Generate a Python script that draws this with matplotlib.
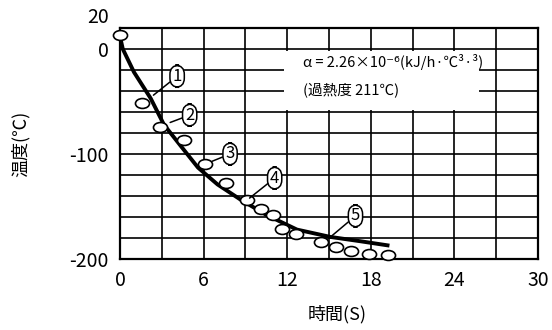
import matplotlib
matplotlib.use("Agg")
import matplotlib.pyplot as plt
from matplotlib.markers import MarkerStyle
from matplotlib.transforms import Affine2D
from matplotlib.patches import Rectangle

plt.rcParams['font.family'] = ['Noto Sans CJK JP', 'DejaVu Sans']

# measured points (open circles)
time_meas = [0, 1.6, 2.9, 4.6, 6.1, 7.6, 9.1, 10.1, 11.0, 11.6, 12.6, 14.4, 15.5, 16.6, 17.9, 19.2]
temp_meas = [13, -51, -74, -87, -110, -128, -144, -152, -158, -171, -176, -184, -189, -192, -195, -196]

# calculated curve
time_calc = [0, 0.2, 1.0, 2.2, 3.15, 4.4, 5.6, 7.0, 8.6, 10.5, 12.7, 15.1, 17.2, 19.2]
temp_calc = [12, 0, -22, -47, -72, -93, -113, -129, -143, -158, -172, -179, -183, -187]

# circled case numbers: label position and leader end
case_labels = ['1', '2', '3', '4', '5']
label_xy = [(4.1, -26), (5.0, -63), (7.9, -100), (11.1, -123), (16.9, -159)]
leader_xy = [(2.4, -44), (3.6, -70), (6.6, -107), (9.3, -142), (15.2, -178)]

xticks = [0, 6, 12, 18, 24, 30]
yticks = [20, 0, -100, -200]

fig = plt.figure(figsize=(5.52, 3.30), dpi=100)
ax = fig.add_axes([0.2174, 0.2152, 0.7572, 0.7000])

ax.set_xlim(0, 30)
ax.set_ylim(-200, 20)
ax.set_xticks(range(0, 31, 3))
ax.set_yticks(range(-200, 21, 20))
ax.set_xticklabels([str(v) if v in xticks else '' for v in range(0, 31, 3)])
ax.set_yticklabels([str(v) if v in yticks else '' for v in range(-200, 21, 20)])
ax.tick_params(length=0, labelsize=14, pad=8)
# the top label sits a little above the frame
ax.get_yticklabels()[-1].set_va('bottom')
ax.grid(True, color='black', linewidth=1.2)
ax.set_axisbelow(True)
for s in ax.spines.values():
    s.set_linewidth(1.6)

# white area behind the formula text
ax.add_patch(Rectangle((11.8, -58.5), 14.0, 57, facecolor='white',
                       edgecolor='none', zorder=1.5))
ax.text(13.1, -12.5, 'α = 2.26×10⁻⁶(kJ/h·℃³·³)', fontsize=10.5, va='center', zorder=3)
ax.text(13.1, -39, '(過熱度 211℃)', fontsize=10.5, va='center', zorder=3)

ax.plot(time_calc, temp_calc, color='black', linewidth=2.8, zorder=3)
oval = MarkerStyle('o', transform=Affine2D().scale(1.35, 0.95))
ax.plot(time_meas, temp_meas, linestyle='none', marker=oval, markersize=7.5,
        markerfacecolor='white', markeredgecolor='black', markeredgewidth=1.2,
        zorder=4, clip_on=False)

for lab, (tx, ty), (px, py) in zip(case_labels, label_xy, leader_xy):
    ax.annotate(lab, xy=(px, py), xytext=(tx, ty), fontsize=12,
                ha='center', va='center', zorder=5,
                bbox=dict(boxstyle='round,pad=0.15,rounding_size=0.55',
                          facecolor='white', edgecolor='black', linewidth=1.1),
                arrowprops=dict(arrowstyle='-', color='black', linewidth=1.1,
                                shrinkA=0, shrinkB=0))

ax.set_xlabel('時間(S)', fontsize=13)
ax.xaxis.set_label_coords(0.52, -0.2)
ax.set_ylabel('温度(℃)', fontsize=13)
ax.yaxis.set_label_coords(-0.215, 0.5)

fig.savefig('out.png', dpi=100)
